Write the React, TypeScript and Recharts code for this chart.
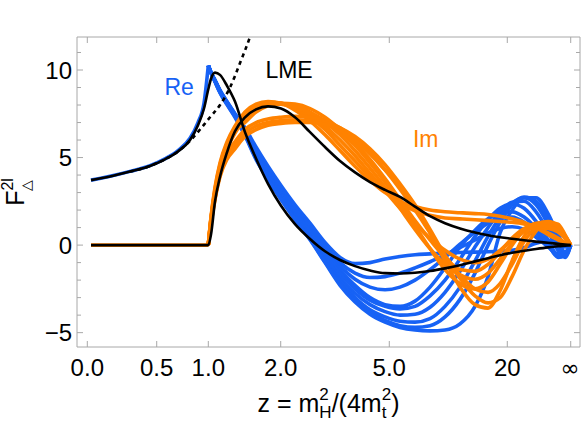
import React from 'react';
import { LineChart, Line, XAxis, YAxis, ReferenceDot } from 'recharts';

// ---- axis ticks (x is the plot's own scaled coordinate: 0 = z=0, 1 = z=inf)
const X_TICKS = [0, 0.1436, 0.2503, 0.4001, 0.6247, 0.8688, 1.0];
const X_TICK_LABELS = ['0.0', '0.5', '1.0', '2.0', '5.0', '20', '\u221E'];
const Y_TICKS = [-5, -4, -3, -2, -1, 0, 1, 2, 3, 4, 5, 6, 7, 8, 9, 10, 11];

// ---- sample positions (scaled x)
const X_PRE = [0.0077, 0.047, 0.0883, 0.1297, 0.1607, 0.1876, 0.2125, 0.229, 0.2414, 0.2503];
const X_POST = [0.2503, 0.2559, 0.2642, 0.2745, 0.289, 0.3055, 0.3262, 0.349, 0.3738, 0.4007, 0.4297, 0.4607, 0.4917, 0.5228, 0.5538, 0.5848, 0.6159, 0.6469, 0.6779, 0.709, 0.74, 0.771, 0.8021, 0.829, 0.8538, 0.8787, 0.9035, 0.9283, 0.9531, 0.9738, 0.9882, 1.0];
const X_LME = [...X_PRE, ...X_POST.slice(1)];
const X_DOT = [0.0883, 0.1297, 0.1607, 0.1876, 0.2125, 0.2332, 0.2538, 0.2745, 0.2952, 0.3159, 0.3366, 0.349];

// ---- LME (black)
const LME_RE = [3.71, 3.92, 4.2, 4.52, 4.9, 5.35, 6.0, 6.85, 7.8, 8.9, 9.5, 9.85, 9.72, 9.1, 8.2, 6.45, 4.95, 3.5, 2.25, 1.2, 0.35, -0.35, -0.85, -1.2, -1.45, -1.6, -1.62, -1.58, -1.48, -1.33, -1.15, -0.93, -0.75, -0.58, -0.44, -0.32, -0.22, -0.13, -0.07, -0.03, 0];
const LME_IM = [0, 0, 0, 0, 0, 0, 0, 0, 0, 0, 0.6, 2.5, 3.9, 5.3, 6.5, 7.3, 7.75, 7.92, 7.8, 7.3, 6.45, 5.6, 4.8, 4.15, 3.6, 3.15, 2.75, 2.2, 1.65, 1.25, 0.95, 0.72, 0.56, 0.45, 0.36, 0.28, 0.2, 0.13, 0.07, 0.03, 0];
const DOT_RE = [4.2, 4.52, 4.9, 5.35, 5.95, 6.6, 7.3, 8.0, 9.0, 10.4, 11.9, 13.0];

// ---- Re (blue)
const RE_PRE = [3.71, 3.93, 4.21, 4.54, 4.93, 5.4, 6.1, 7.0, 8.1, 10.25];
const RE_1 = [10.25, 9.85, 9.4, 8.8, 8.15, 7.45, 6.7, 5.6, 4.5, 3.4, 2.3, 1.25, 0.15, -0.7, -1.05, -1.0, -0.8, -0.65, -0.55, -0.5, -0.45, -0.42, -0.4, -0.38, -0.35, -0.3, -0.15, 0.1, 0.25, 0.1, -0.1, 0];
const RE_2 = [10.25, 9.85, 9.42, 8.85, 8.2, 7.5, 6.65, 5.5, 4.4, 3.3, 2.2, 1.1, -0.05, -1.0, -1.6, -1.85, -1.8, -1.6, -1.3, -0.95, -0.55, -0.15, 0.3, 0.7, 0.95, 1.05, 0.9, 0.45, -0.1, -0.5, -0.4, 0];
const RE_3 = [10.25, 9.85, 9.38, 8.78, 8.12, 7.42, 6.6, 5.4, 4.3, 3.2, 2.1, 0.95, -0.2, -1.2, -1.95, -2.4, -2.55, -2.4, -2.0, -1.4, -0.7, 0.05, 0.75, 1.25, 1.55, 1.6, 1.3, 0.7, -0.05, -0.6, -0.5, 0];
const RE_4 = [10.25, 9.85, 9.4, 8.82, 8.18, 7.48, 6.5, 5.3, 4.2, 3.05, 1.95, 0.8, -0.35, -1.4, -2.3, -3.0, -3.4, -3.5, -3.2, -2.4, -1.3, -0.1, 0.85, 1.5, 1.85, 1.9, 1.6, 0.95, 0.05, -0.7, -0.6, 0];
const RE_5 = [10.25, 9.85, 9.36, 8.75, 8.1, 7.4, 6.45, 5.2, 4.1, 2.95, 1.85, 0.7, -0.5, -1.6, -2.5, -3.15, -3.5, -3.65, -3.5, -2.9, -2.0, -0.8, 0.5, 1.45, 2.1, 2.35, 2.1, 1.35, 0.3, -0.6, -0.6, 0];
const RE_6 = [10.25, 9.85, 9.4, 8.8, 8.15, 7.45, 6.4, 5.1, 4.0, 2.85, 1.7, 0.55, -0.7, -1.85, -2.75, -3.4, -3.8, -4.0, -3.95, -3.55, -2.7, -1.5, -0.1, 1.0, 1.9, 2.45, 2.5, 1.9, 0.8, -0.3, -0.7, 0];
const RE_7 = [10.25, 9.85, 9.38, 8.78, 8.12, 7.4, 6.35, 5.0, 3.9, 2.75, 1.6, 0.45, -0.85, -2.05, -3.0, -3.7, -4.1, -4.35, -4.4, -4.2, -3.5, -2.4, -0.9, 0.5, 1.6, 2.4, 2.7, 2.3, 1.2, 0.0, -0.6, 0];
const RE_8 = [10.25, 9.85, 9.35, 8.72, 8.05, 7.35, 6.3, 4.95, 3.8, 2.65, 1.5, 0.35, -0.95, -2.2, -3.15, -3.85, -4.3, -4.6, -4.7, -4.6, -4.1, -3.1, -1.6, 0.0, 1.3, 2.3, 2.75, 2.5, 1.5, 0.3, -0.4, 0];
const RE_9 = [10.25, 9.85, 9.33, 8.7, 8.02, 7.3, 6.25, 4.9, 3.75, 2.6, 1.45, 0.3, -1.0, -2.3, -3.25, -3.95, -4.4, -4.7, -4.85, -4.9, -4.85, -4.5, -3.5, -1.8, 0.7, 2.0, 2.7, 2.7, 1.8, 0.6, 0.0, 0];

// ---- Im (orange)
const IM_PRE = [0, 0, 0, 0, 0, 0, 0, 0, 0, 0];
const IM_1 = [0, 1.6, 3.3, 4.7, 5.9, 6.8, 7.6, 8.05, 8.2, 8.1, 7.7, 7.1, 6.3, 5.4, 4.5, 3.7, 3.0, 2.5, 2.2, 2.0, 1.9, 1.85, 1.8, 1.75, 1.65, 1.5, 1.3, 1.0, 0.6, 0.3, 0.1, 0];
const IM_2 = [0, 1.55, 3.2, 4.6, 5.8, 6.7, 7.5, 7.95, 8.15, 8.1, 7.8, 7.3, 6.6, 5.7, 4.8, 3.9, 3.1, 2.4, 1.95, 1.7, 1.55, 1.5, 1.45, 1.4, 1.35, 1.3, 1.2, 1.0, 0.7, 0.4, 0.15, 0];
const IM_3 = [0, 1.5, 3.1, 4.5, 5.7, 6.6, 7.4, 7.9, 8.1, 8.1, 7.85, 7.4, 6.8, 6.0, 5.1, 4.1, 3.1, 2.1, 1.2, 0.4, -0.3, -0.8, -1.0, -0.8, -0.3, 0.3, 0.8, 1.0, 0.95, 0.75, 0.4, 0];
const IM_4 = [0, 1.45, 3.0, 4.4, 5.6, 6.5, 7.3, 7.8, 8.05, 8.05, 7.9, 7.5, 7.0, 6.3, 5.4, 4.4, 3.3, 2.1, 0.9, -0.2, -1.1, -1.7, -1.95, -1.6, -0.8, 0.1, 0.8, 1.15, 1.2, 0.95, 0.5, 0];
const IM_5 = [0, 1.4, 2.95, 4.35, 5.5, 6.4, 7.2, 7.7, 8.0, 8.05, 7.95, 7.6, 7.1, 6.5, 5.7, 4.7, 3.6, 2.4, 1.1, -0.2, -1.4, -2.2, -2.5, -2.1, -1.1, 0.0, 0.85, 1.25, 1.3, 1.0, 0.5, 0];
const IM_6 = [0, 1.3, 2.8, 4.1, 5.2, 5.9, 6.6, 7.0, 7.2, 7.3, 7.35, 7.3, 7.1, 6.7, 6.1, 5.3, 4.3, 3.2, 2.0, 0.7, -0.6, -1.7, -2.5, -2.7, -2.2, -1.1, 0.2, 1.0, 1.3, 1.1, 0.55, 0];
const IM_7 = [0, 1.25, 2.7, 4.0, 5.0, 5.7, 6.4, 6.8, 7.0, 7.1, 7.15, 7.1, 7.0, 6.7, 6.2, 5.5, 4.6, 3.5, 2.3, 0.9, -0.6, -1.9, -2.9, -3.3, -3.0, -1.8, -0.3, 0.8, 1.3, 1.2, 0.6, 0];
const IM_8 = [0, 1.2, 2.6, 3.9, 4.9, 5.5, 6.2, 6.6, 6.85, 6.95, 7.0, 7.0, 6.9, 6.6, 6.0, 5.2, 4.3, 3.4, 2.2, 0.7, -0.9, -2.4, -3.4, -3.6, -2.6, -0.9, 0.5, 1.2, 1.35, 1.1, 0.5, 0];
const IM_9 = [0, 1.5, 3.05, 4.45, 5.6, 6.5, 7.0, 7.6, 7.95, 8.1, 8.05, 7.8, 7.3, 6.6, 5.8, 4.9, 3.8, 2.6, 1.4, 0.3, -0.7, -1.4, -1.5, -1.1, -0.4, 0.4, 0.95, 1.15, 1.05, 0.8, 0.4, 0];

const RE_CURVES = [RE_1, RE_2, RE_3, RE_4, RE_5, RE_6, RE_7, RE_8, RE_9];
const IM_CURVES = [IM_1, IM_2, IM_3, IM_4, IM_5, IM_6, IM_7, IM_8, IM_9];

// ---- annotations [scaled x, y]
const LABEL_RE = [0.19, 9.03];
const LABEL_LME = [0.4173, 10.0];
const LABEL_IM = [0.7, 6.05];

// ---- style / layout
const W = 581;
const H = 428;
const PLOT_W = 503;
const PLOT_H = 310;
const BLUE = '#1762f5';
const ORANGE = '#ff8200';
const FRAME = '#a8a8a8';
const FONT = '"Liberation Sans", Arial, Helvetica, sans-serif';
const X_DOMAIN: [number, number] = [-0.0213, 1.0192];
const Y_DOMAIN: [number, number] = [-5.82, 11.885];

const pts = (xs: number[], ys: number[]) => xs.map((x, i) => ({ x, y: ys[i] }));

const XTick = (props: any) => {
  const { x, y, payload } = props;
  const i = X_TICKS.findIndex((t) => Math.abs(t - payload.value) < 1e-6);
  const label = i >= 0 ? X_TICK_LABELS[i] : '';
  const isInf = label === '\u221E';
  return (
    <g>
      <line x1={x} y1={y} x2={x} y2={y - 6} stroke={FRAME} strokeWidth={1} />
      <line x1={x} y1={y - PLOT_H} x2={x} y2={y - PLOT_H + 6} stroke={FRAME} strokeWidth={1} />
      <text
        x={isInf ? x - 1 : x}
        y={y + 29}
        textAnchor="middle"
        fontSize={isInf ? 23 : 24}
        fontFamily={isInf ? '"DejaVu Sans", sans-serif' : FONT}
        fill="#000"
      >
        {label}
      </text>
    </g>
  );
};

const YTick = (props: any) => {
  const { x, y, payload } = props;
  const v = payload.value;
  const major = v % 5 === 0;
  const len = major ? 6 : 4;
  return (
    <g>
      <line x1={x} y1={y} x2={x + len} y2={y} stroke={FRAME} strokeWidth={1} />
      <line x1={x + PLOT_W} y1={y} x2={x + PLOT_W - len} y2={y} stroke={FRAME} strokeWidth={1} />
      {major && (
        <text x={x - 5} y={y} dy="0.36em" textAnchor="end" fontSize={24} fontFamily={FONT} fill="#000">
          {v < 0 ? '\u2212' + Math.abs(v) : String(v)}
        </text>
      )}
    </g>
  );
};

const XTitle = (props: any) => {
  const vb = props.viewBox || { x: 77, y: 347, width: 503, height: 81 };
  const { x, y, width } = vb;
  const cx = x + width / 2;
  return (
    <g>
      <line x1={x} y1={y - PLOT_H} x2={x + width} y2={y - PLOT_H} stroke={FRAME} strokeWidth={1} />
      <line x1={x + width} y1={y - PLOT_H} x2={x + width} y2={y} stroke={FRAME} strokeWidth={1} />
      <text x={cx} y={y + 65} textAnchor="middle" fontSize={25} fontFamily={FONT} fill="#000">
        z = m
        <tspan dy={6} fontSize={17}>H</tspan>
        <tspan dx={-12.3} dy={-18} fontSize={17}>2</tspan>
        <tspan dx={2.9} dy={12}>/(4m</tspan>
        <tspan dy={6} fontSize={17}>t</tspan>
        <tspan dx={-4.7} dy={-18} fontSize={17}>2</tspan>
        <tspan dy={12}>)</tspan>
      </text>
    </g>
  );
};

const YTitle = (props: any) => {
  const vb = props.viewBox || { x: 0, y: 37, width: 77, height: 310 };
  const cy = vb.y + vb.height / 2;
  return (
    <text transform={`translate(24, ${cy}) rotate(-90)`} textAnchor="middle" fontSize={25} fontFamily={FONT} fill="#000">
      F
      <tspan dy={-11} fontSize={16}>2l</tspan>
      <tspan dx={-13} dy={18} fontSize={14}>{'\u25B3'}</tspan>
    </text>
  );
};

const annot = (text: string, color: string) => (p: any) => (
  <text x={p.cx} y={p.cy} dy="0.36em" textAnchor="middle" fontSize={23} fontFamily={FONT} fill={color}>
    {text}
  </text>
);

export default function App() {
  return (
    <div style={{ position: 'absolute', left: 0, top: 0, width: W, height: H, background: '#fff' }}>
      <LineChart width={W} height={H} margin={{ top: 37, right: 1, bottom: 0, left: 0 }}>
        <XAxis
          type="number"
          dataKey="x"
          domain={X_DOMAIN}
          allowDataOverflow
          ticks={X_TICKS}
          interval={0}
          tickSize={0}
          tickMargin={0}
          tickLine={false}
          tick={<XTick />}
          axisLine={{ stroke: FRAME, strokeWidth: 1 }}
          height={81}
          label={<XTitle />}
        />
        <YAxis
          type="number"
          dataKey="y"
          domain={Y_DOMAIN}
          allowDataOverflow
          ticks={Y_TICKS}
          interval={0}
          tickSize={0}
          tickMargin={0}
          tickLine={false}
          tick={<YTick />}
          axisLine={{ stroke: FRAME, strokeWidth: 1 }}
          width={77}
          label={<YTitle />}
        />
        <Line data={pts(X_PRE, RE_PRE)} dataKey="y" type="monotone" stroke={BLUE} strokeWidth={3.6} dot={false} activeDot={false} isAnimationActive={false} />
        {RE_CURVES.map((c, i) => (
          <Line key={'re' + i} data={pts(X_POST, c)} dataKey="y" type="monotone" stroke={BLUE} strokeWidth={3.6} strokeLinejoin="round" dot={false} activeDot={false} isAnimationActive={false} />
        ))}
        <Line data={pts(X_PRE, IM_PRE)} dataKey="y" type="linear" stroke={ORANGE} strokeWidth={3.6} dot={false} activeDot={false} isAnimationActive={false} />
        {IM_CURVES.map((c, i) => (
          <Line key={'im' + i} data={pts(X_POST, c)} dataKey="y" type="monotone" stroke={ORANGE} strokeWidth={3.6} strokeLinejoin="round" dot={false} activeDot={false} isAnimationActive={false} />
        ))}
        <Line data={pts(X_LME, LME_RE)} dataKey="y" type="monotone" stroke="#000" strokeWidth={2.6} dot={false} activeDot={false} isAnimationActive={false} />
        <Line data={pts(X_LME, LME_IM)} dataKey="y" type="monotone" stroke="#000" strokeWidth={2.6} dot={false} activeDot={false} isAnimationActive={false} />
        <Line data={pts(X_DOT, DOT_RE)} dataKey="y" type="monotone" stroke="#000" strokeWidth={2.6} strokeDasharray="4 4" dot={false} activeDot={false} isAnimationActive={false} />
        <ReferenceDot x={LABEL_RE[0]} y={LABEL_RE[1]} r={1} shape={annot('Re', BLUE)} />
        <ReferenceDot x={LABEL_LME[0]} y={LABEL_LME[1]} r={1} shape={annot('LME', '#000')} />
        <ReferenceDot x={LABEL_IM[0]} y={LABEL_IM[1]} r={1} shape={annot('Im', ORANGE)} />
      </LineChart>
    </div>
  );
}
